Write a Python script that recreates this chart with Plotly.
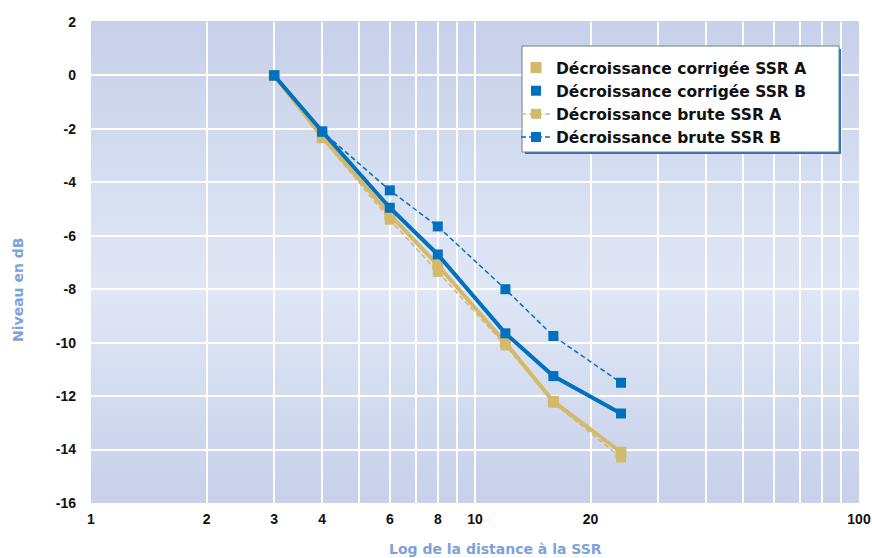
import plotly.graph_objects as go

# ---- data ----
distance = [3, 4, 6, 8, 12, 16, 24]
corr_A = [0, -2.3, -5.2, -7.1, -10.0, -12.2, -14.1]
brute_A = [0, -2.35, -5.4, -7.35, -10.1, -12.25, -14.3]
corr_B = [0, -2.1, -4.95, -6.7, -9.65, -11.25, -12.65]
brute_B = [0, -2.1, -4.3, -5.65, -8.0, -9.75, -11.5]

names = ["Décroissance corrigée SSR A", "Décroissance corrigée SSR B",
         "Décroissance brute SSR A", "Décroissance brute SSR B"]

x_tickvals = [1, 2, 3, 4, 6, 8, 10, 20, 100]
x_minor = [5, 7, 9, 30, 40, 50, 60, 70, 80, 90]
y_tickvals = [2, 0, -2, -4, -6, -8, -10, -12, -14, -16]

x_title = "Log de la distance à la SSR"
y_title = "Niveau en dB"

BLUE = "#0071BE"
TAN = "#D3B96A"
DASH = "5px,3px"

W, H = 872, 558
PL, PR, PT, PB = 91, 859, 22, 503  # plot area in pixels


def px_x(p):
    return (p - PL) / (PR - PL)


def px_y(p):
    return (PB - p) / (PB - PT)


fig = go.Figure()

# data traces (no legend)
fig.add_trace(go.Scatter(x=distance, y=brute_A, mode="lines+markers", showlegend=False,
                         line=dict(color=TAN, width=1.5, dash=DASH),
                         marker=dict(symbol="square", size=10, color=TAN)))
fig.add_trace(go.Scatter(x=distance, y=corr_A, mode="lines+markers", showlegend=False,
                         line=dict(color=TAN, width=4),
                         marker=dict(symbol="square", size=11, color=TAN)))
fig.add_trace(go.Scatter(x=distance, y=brute_B, mode="lines+markers", showlegend=False,
                         line=dict(color=BLUE, width=1.5, dash=DASH),
                         marker=dict(symbol="square", size=10, color=BLUE)))
fig.add_trace(go.Scatter(x=distance, y=corr_B, mode="lines+markers", showlegend=False,
                         line=dict(color=BLUE, width=4),
                         marker=dict(symbol="square", size=10, color=BLUE)))

# legend entries
fig.add_trace(go.Scatter(x=[None], y=[None], mode="markers", name=names[0],
                         marker=dict(symbol="square", size=11, color=TAN)))
fig.add_trace(go.Scatter(x=[None], y=[None], mode="markers", name=names[1],
                         marker=dict(symbol="square", size=10, color=BLUE)))
fig.add_trace(go.Scatter(x=[None], y=[None], mode="lines+markers", name=names[2],
                         line=dict(color=TAN, width=1.5, dash=DASH),
                         marker=dict(symbol="square", size=10, color=TAN)))
fig.add_trace(go.Scatter(x=[None], y=[None], mode="lines+markers", name=names[3],
                         line=dict(color=BLUE, width=1.5, dash=DASH),
                         marker=dict(symbol="square", size=10, color=BLUE)))

# gradient background bands
def lerp(c1, c2, t):
    return tuple(round(a + (b - a) * t) for a, b in zip(c1, c2))

edge = (200, 208, 234)
mid = (223, 231, 246)
peak = 0.45  # fraction from bottom where it's lightest
n = 60
shapes = []
for i in range(n):
    f0 = i / n
    f1 = (i + 1) / n
    fc = (f0 + f1) / 2
    if fc < peak:
        t = fc / peak
    else:
        t = (1 - fc) / (1 - peak)
    c = lerp(edge, mid, t)
    shapes.append(dict(type="rect", xref="paper", yref="paper", x0=0, x1=1,
                       y0=f0, y1=f1 + 0.002, layer="below", line=dict(width=0),
                       fillcolor="rgb(%d,%d,%d)" % c))

# legend box (shadow + white box)
shapes.append(dict(type="rect", xref="paper", yref="paper",
                   x0=px_x(525), x1=px_x(841), y0=px_y(154), y1=px_y(49),
                   layer="above", line=dict(width=0), fillcolor="#2A72BE"))
shapes.append(dict(type="rect", xref="paper", yref="paper",
                   x0=px_x(522), x1=px_x(839), y0=px_y(152), y1=px_y(46),
                   layer="above", line=dict(width=1, color="#707C90"), fillcolor="white"))

tickfont = dict(family="Liberation Sans, Arial", size=14, color="#111111", weight="bold")
titlefont = dict(family="DejaVu Sans, Verdana, Arial", size=14, color="#7DA2DA", weight="bold")

annotations = [
    dict(text=x_title, xref="paper", yref="paper", x=px_x(495), y=px_y(549),
         xanchor="center", yanchor="middle", showarrow=False, font=titlefont),
    dict(text=y_title, xref="paper", yref="paper", x=px_x(18), y=px_y(290),
         xanchor="center", yanchor="middle", showarrow=False, font=titlefont, textangle=-90),
]

fig.update_layout(
    width=W, height=H,
    margin=dict(l=PL, r=W - PR, t=PT, b=H - PB),
    paper_bgcolor="white",
    plot_bgcolor="rgba(0,0,0,0)",
    shapes=shapes,
    annotations=annotations,
    showlegend=True,
    legend=dict(x=px_x(516), y=px_y(51), xanchor="left", yanchor="top",
                bgcolor="rgba(0,0,0,0)", borderwidth=0,
                font=dict(family="DejaVu Sans, Verdana, Arial", size=15.5, color="#111111", weight="bold"),
                tracegroupgap=0),
    xaxis=dict(type="log", range=[0, 2], tickvals=x_tickvals,
               ticktext=[str(v) for v in x_tickvals],
               showgrid=True, gridcolor="white", gridwidth=1.5,
               zeroline=False, showline=False, ticks="", automargin=False,
               tickfont=tickfont, ticklabelstandoff=6,
               minor=dict(tickvals=x_minor, showgrid=True, gridcolor="white", gridwidth=1.5, ticks="")),
    yaxis=dict(range=[-16, 2], tickvals=y_tickvals,
               ticktext=[str(v) for v in y_tickvals],
               showgrid=True, gridcolor="white", gridwidth=1.5,
               zeroline=False, showline=False, ticks="", automargin=False,
               tickfont=tickfont, ticklabelstandoff=14),
)

fig.write_html("out.html", config={"displayModeBar": False},
               post_script="document.body.style.margin='0';document.body.style.overflow='hidden';")
